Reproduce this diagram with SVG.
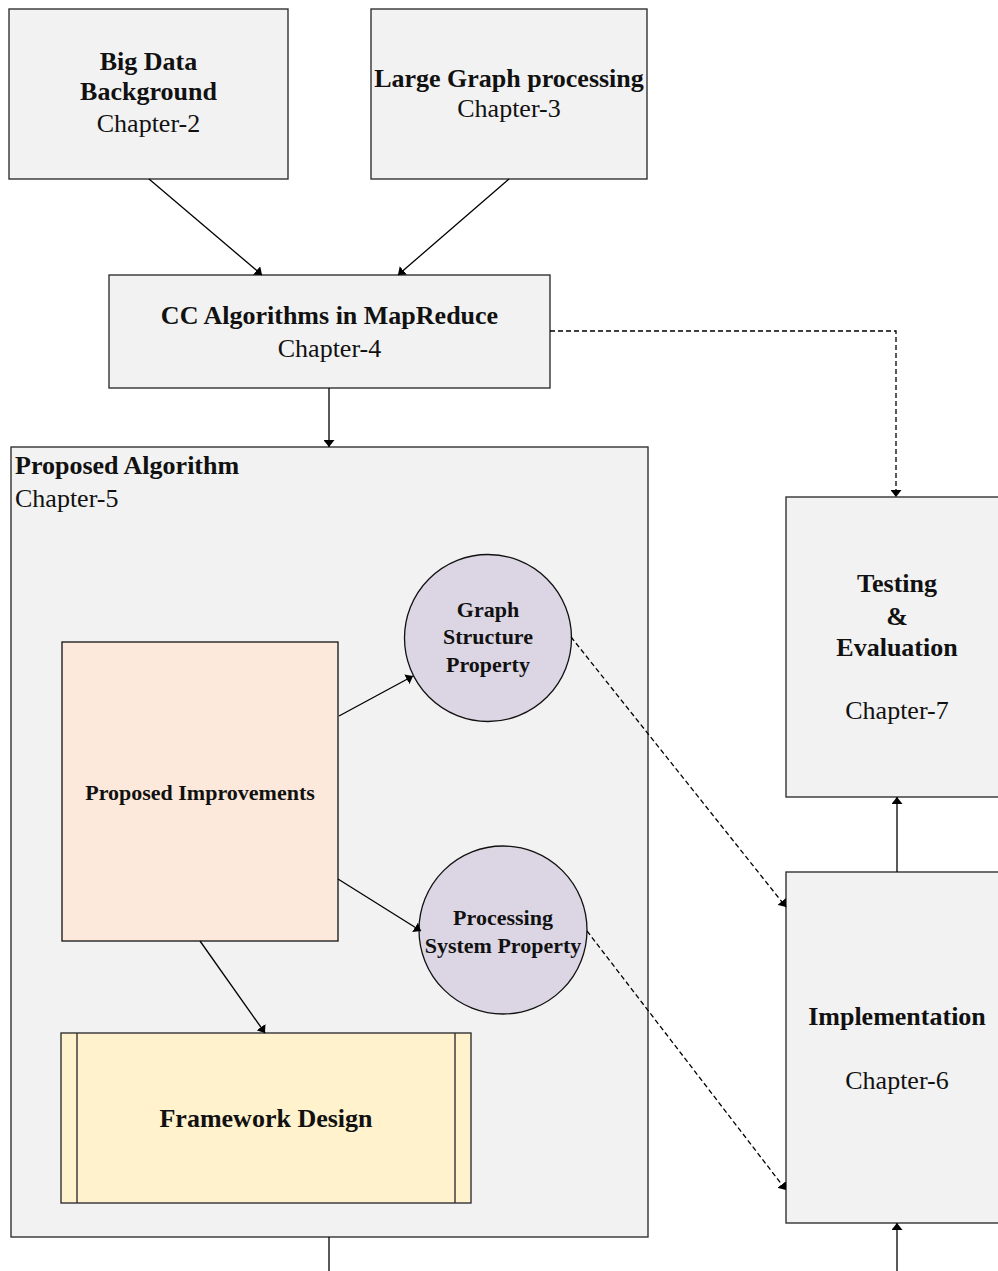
<svg xmlns="http://www.w3.org/2000/svg" width="998" height="1271" viewBox="0 0 998 1271">
  <style>
    .box { fill: #f2f2f2; stroke: #333; stroke-width: 1.4; }
    .circle { fill: #dcd6e4; stroke: #111; stroke-width: 1.3; }
    .improve { fill: #fce9db; stroke: #111; stroke-width: 1.3; }
    .frame { fill: #fff2cc; stroke: #333; stroke-width: 1.4; }
    .t { font-family: "Liberation Serif", "Times New Roman", serif; fill: #111; text-anchor: middle; }
    .b { font-weight: bold; }
    .big { font-size: 26px; }
    .mid { font-size: 22px; }
    .edge { fill: none; stroke: #000; stroke-width: 1.3; }
    .dash { stroke-dasharray: 5 3; }
  </style>
  <defs>
    <marker id="arrow" viewBox="0 0 7 11" refX="7" refY="5.5" markerWidth="7" markerHeight="11" markerUnits="userSpaceOnUse" orient="auto">
      <path d="M0,0 L7,5.5 L0,11 z" fill="#000"/>
    </marker>
  </defs>

  <!-- chapter 2 -->
  <g id="big-data">
    <rect class="box" x="9" y="9" width="279" height="170"/>
    <text class="t b big" x="148.5" y="70">Big Data</text>
    <text class="t b big" x="148.5" y="100">Background</text>
    <text class="t big" x="148.5" y="132">Chapter-2</text>
  </g>

  <!-- chapter 3 -->
  <g id="large-graph">
    <rect class="box" x="371" y="9" width="276" height="170"/>
    <text class="t b big" x="509" y="87">Large Graph processing</text>
    <text class="t big" x="509" y="117">Chapter-3</text>
  </g>

  <!-- chapter 4 -->
  <g id="cc-algorithms">
    <rect class="box" x="109" y="275" width="441" height="113"/>
    <text class="t b big" x="329.5" y="324">CC Algorithms in MapReduce</text>
    <text class="t big" x="329.5" y="357">Chapter-4</text>
  </g>

  <!-- chapter 5 container -->
  <g id="proposed-algorithm">
    <rect class="box" x="11" y="447" width="637" height="790"/>
    <text class="t b big" x="15" y="474" style="text-anchor:start">Proposed Algorithm</text>
    <text class="t big" x="15" y="507" style="text-anchor:start">Chapter-5</text>
  </g>

  <g id="proposed-improvements">
    <rect class="improve" x="62" y="642" width="276" height="299"/>
    <text class="t b mid" x="200" y="800">Proposed Improvements</text>
  </g>

  <g id="graph-structure">
    <circle class="circle" cx="488" cy="638" r="83.5"/>
    <text class="t b mid" x="488" y="617">Graph</text>
    <text class="t b mid" x="488" y="644">Structure</text>
    <text class="t b mid" x="488" y="672">Property</text>
  </g>

  <g id="processing-system">
    <circle class="circle" cx="503" cy="930" r="84"/>
    <text class="t b mid" x="503" y="925">Processing</text>
    <text class="t b mid" x="503" y="953">System Property</text>
  </g>

  <g id="framework-design">
    <rect class="frame" x="61" y="1033" width="410" height="170"/>
    <line x1="77" y1="1033" x2="77" y2="1203" stroke="#333" stroke-width="1.4"/>
    <line x1="455" y1="1033" x2="455" y2="1203" stroke="#333" stroke-width="1.4"/>
    <text class="t b big" x="266" y="1127">Framework Design</text>
  </g>

  <!-- chapter 7 -->
  <g id="testing">
    <rect class="box" x="786" y="497" width="222" height="300"/>
    <text class="t b big" x="897" y="592">Testing</text>
    <text class="t b big" x="897" y="625">&amp;</text>
    <text class="t b big" x="897" y="656">Evaluation</text>
    <text class="t big" x="897" y="719">Chapter-7</text>
  </g>

  <!-- chapter 6 -->
  <g id="implementation">
    <rect class="box" x="786" y="872" width="222" height="351"/>
    <text class="t b big" x="897" y="1025">Implementation</text>
    <text class="t big" x="897" y="1089">Chapter-6</text>
  </g>

  <g id="connectors">
    <line class="edge" x1="149" y1="179" x2="262" y2="275" marker-end="url(#arrow)"/>
    <line class="edge" x1="509" y1="179" x2="398" y2="275" marker-end="url(#arrow)"/>
    <line class="edge" x1="329" y1="388" x2="329" y2="447" marker-end="url(#arrow)"/>
    <path class="edge dash" d="M550,331 H896 V497" marker-end="url(#arrow)"/>
    <line class="edge" x1="339" y1="716" x2="413" y2="676" marker-end="url(#arrow)"/>
    <line class="edge" x1="338" y1="879" x2="421" y2="931" marker-end="url(#arrow)"/>
    <line class="edge" x1="200" y1="941" x2="265" y2="1033" marker-end="url(#arrow)"/>
    <line class="edge dash" x1="571" y1="637" x2="786" y2="907" marker-end="url(#arrow)"/>
    <line class="edge dash" x1="587" y1="931" x2="786" y2="1190" marker-end="url(#arrow)"/>
    <line class="edge" x1="897" y1="872" x2="897" y2="797" marker-end="url(#arrow)"/>
    <line class="edge" x1="897" y1="1271" x2="897" y2="1223" marker-end="url(#arrow)"/>
    <line class="edge" x1="329" y1="1237" x2="329" y2="1271"/>
  </g>
</svg>
